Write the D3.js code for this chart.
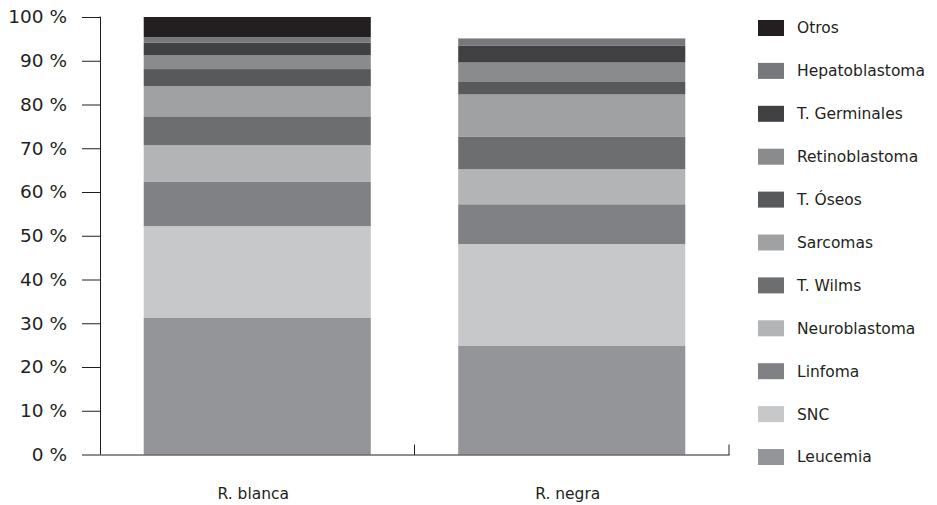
<!DOCTYPE html>
<html>
<head>
<meta charset="utf-8">
<script src="https://cdn.jsdelivr.net/npm/d3@7"></script>
<style>
  html, body { margin: 0; padding: 0; background: #fff; }
  svg { display: block; font-family: "DejaVu Sans", sans-serif; }
</style>
</head>
<body>
<svg id="chart" width="937" height="505"></svg>
<script>
// ---- Data ----
const categories = ["R. blanca", "R. negra"];
const seriesNames = ["Leucemia", "SNC", "Linfoma", "Neuroblastoma", "T. Wilms", "Sarcomas",
                     "T. Óseos", "Retinoblastoma", "T. Germinales", "Hepatoblastoma", "Otros"];
const blancaValues = [31.2, 21.0, 10.1, 8.4, 6.6, 6.9, 3.9, 3.2, 2.8, 1.3, 4.6];
const negraValues  = [24.8, 23.3, 9.1, 8.0, 7.5, 9.6, 3.0, 4.3, 3.9, 1.6, 0];
const seriesColors = ["#939598", "#c7c8ca", "#808184", "#b3b4b6", "#6d6e70", "#a0a1a3",
                      "#58595b", "#8a8b8d", "#414042", "#77787b", "#231f20"];
const yTicks = [0, 10, 20, 30, 40, 50, 60, 70, 80, 90, 100];

// ---- Build table ----
const table = categories.map((c, i) => {
  const row = { category: c };
  const vals = i === 0 ? blancaValues : negraValues;
  seriesNames.forEach((s, j) => row[s] = vals[j]);
  return row;
});

const svg = d3.select("#chart");
const inkColor = "#231f20";

const x = d3.scaleBand().domain(categories).range([100, 729])
  .paddingInner(0.278).paddingOuter(0.139);
const y = d3.scaleLinear().domain([0, 100]).range([454.5, 17]);
const color = d3.scaleOrdinal().domain(seriesNames).range(seriesColors);

const stacked = d3.stack().keys(seriesNames)(table);

// Bars
svg.append("g").selectAll("g")
  .data(stacked)
  .join("g")
  .attr("fill", d => color(d.key))
  .selectAll("rect")
  .data(d => d)
  .join("rect")
  .attr("x", d => x(d.data.category))
  .attr("width", x.bandwidth())
  .attr("y", d => y(d[1]))
  .attr("height", d => Math.max(0, y(d[0]) - y(d[1])));

// Y axis
const yAxis = d3.axisLeft(y).tickValues(yTicks).tickSize(18).tickPadding(15)
  .tickFormat(d => d + " %");
const gy = svg.append("g").attr("transform", "translate(100,0)").call(yAxis);
gy.select(".domain").attr("stroke", inkColor).attr("d", `M-0.5,${y(100)}H0.5V${y(0)}`);
gy.selectAll(".tick line").attr("stroke", inkColor);
gy.selectAll(".tick text").attr("fill", inkColor).style("font-size", "18.5px")
  .style("font-family", "'DejaVu Sans', sans-serif");

// X axis line and boundary ticks
const gx = svg.append("g");
const x0 = x.range()[0], x1 = x.range()[1];
gx.append("line").attr("x1", x0).attr("x2", x1 + 0.5)
  .attr("y1", y(0) + 0.5).attr("y2", y(0) + 0.5).attr("stroke", inkColor);
const boundaries = categories.map((c, i) => x0 + x.step() * (i + 1));
gx.selectAll("line.bt").data(boundaries).join("line").attr("class", "bt")
  .attr("x1", d => d).attr("x2", d => d)
  .attr("y1", y(0) + 0.5).attr("y2", y(0) - 10).attr("stroke", inkColor);
gx.selectAll("text").data(categories).join("text")
  .attr("x", d => x(d) + x.bandwidth() / 2 - 4)
  .attr("y", 499)
  .attr("text-anchor", "middle")
  .attr("fill", inkColor)
  .style("font-size", "15.5px")
  .text(d => d);

// Legend (top to bottom: reversed series)
const legendItems = seriesNames.slice().reverse();
const legend = svg.append("g").selectAll("g")
  .data(legendItems)
  .join("g")
  .attr("transform", (d, i) => `translate(758, ${28 + i * 42.9})`);
legend.append("rect").attr("x", 0).attr("y", -8).attr("width", 26).attr("height", 16)
  .attr("fill", d => color(d));
legend.append("text").attr("x", 39).attr("y", 0).attr("dy", "0.35em")
  .attr("fill", inkColor).style("font-size", "15.5px").text(d => d);
</script>
</body>
</html>
